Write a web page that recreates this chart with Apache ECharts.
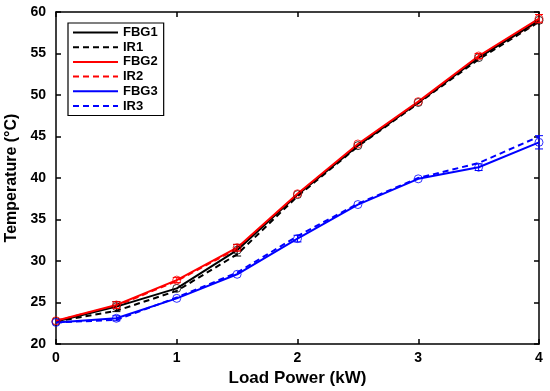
<!DOCTYPE html>
<html><head><meta charset="utf-8">
<script src="https://cdn.jsdelivr.net/npm/echarts@6/dist/echarts.min.js"></script>
<style>html,body{margin:0;padding:0;background:#fff}#c{width:550px;height:391px}</style>
</head><body><div id="c"></div>
<script>
const xVals = [0, 0.5, 1, 1.5, 2, 2.5, 3, 3.5, 4];
const fbg1 = [22.7, 24.5, 26.7, 31.3, 38.0, 43.9, 49.1, 54.5, 59.0];
const ir1  = [22.7, 24.0, 26.4, 30.8, 37.8, 43.8, 49.0, 54.3, 58.8];
const fbg2 = [22.8, 24.7, 27.7, 31.6, 38.1, 44.1, 49.2, 54.7, 59.2];
const ir2  = [22.8, 24.6, 27.6, 31.5, 38.0, 44.0, 49.1, 54.6, 58.9];
const fbg3 = [22.6, 23.1, 25.5, 28.4, 32.7, 36.8, 39.9, 41.3, 44.3];
const ir3  = [22.6, 22.9, 25.6, 28.6, 33.0, 36.9, 40.0, 41.8, 45.0];
const err1 = [0, 0.6, 0, 0.7, 0, 0, 0, 0, 0];
const err2 = [0, 0.4, 0.3, 0.4, 0, 0, 0, 0.3, 0.5];
const err3 = [0, 0.3, 0, 0, 0.4, 0, 0, 0.4, 0.8];
const xTicks = [0, 1, 2, 3, 4];
const yMin = 20, yMax = 60, yStep = 5;

const BLK = '#000000', RED = '#ff0000', BLU = '#0000ff';
const font = 'Liberation Sans, Arial, sans-serif';

function pts(arr){ return xVals.map((x,i)=>[x,arr[i]]); }
function lineSeries(name, arr, color, dashed){
  return {name, type:'line', data:pts(arr), symbol:'none', showSymbol:false, z: dashed?3:4,
    lineStyle:{color, width:2, type: dashed?[6,4]:'solid'}, itemStyle:{color}};
}
function markerSeries(arr, color){
  return {type:'scatter', data:pts(arr), symbol:'circle', symbolSize:8, z:5,
    itemStyle:{color:'rgba(0,0,0,0)', borderColor:color, borderWidth:1}, silent:true};
}
function errSeries(arr, err, color){
  const d = xVals.map((x,i)=>[x, arr[i]-err[i], arr[i]+err[i]]).filter((p,i)=>err[i]>0);
  return {type:'custom', z:6, silent:true, data:d,
    renderItem(params, api){
      const lo = api.coord([api.value(0), api.value(1)]);
      const hi = api.coord([api.value(0), api.value(2)]);
      const w = 4;
      const st = {stroke:color, lineWidth:1};
      return {type:'group', children:[
        {type:'line', shape:{x1:lo[0],y1:lo[1],x2:hi[0],y2:hi[1]}, style:st},
        {type:'line', shape:{x1:lo[0]-w,y1:lo[1],x2:lo[0]+w,y2:lo[1]}, style:st},
        {type:'line', shape:{x1:hi[0]-w,y1:hi[1],x2:hi[0]+w,y2:hi[1]}, style:st}
      ]};
    }};
}

const axisCommon = {
  axisLine:{show:true, onZero:false, lineStyle:{color:BLK, width:1.5}},
  axisTick:{show:true, inside:true, length:5, lineStyle:{color:BLK, width:1.5}},
  splitLine:{show:false}
};

const chart = echarts.init(document.getElementById('c'));
chart.setOption({
  animation:false,
  backgroundColor:'#fff',
  textStyle:{fontFamily:font},
  grid:{left:56, right:11, top:12, bottom:47, containLabel:false, outerBoundsMode:'none'},
  legend:{
    data:['FBG1','IR1','FBG2','IR2','FBG3','IR3'],
    orient:'vertical', left:68, top:23,
    itemWidth:45, itemHeight:12, itemGap:1.7,
    padding:[3,6,3,4],
    itemStyle:{color:'rgba(0,0,0,0)', borderColor:'rgba(0,0,0,0)', borderWidth:0, opacity:0},
    borderColor:BLK, borderWidth:1.2, backgroundColor:'#fff',
    textStyle:{fontFamily:font, fontWeight:'bold', fontSize:13, color:BLK}
  },
  xAxis:[
    Object.assign({type:'value', min:0, max:4, interval:1, position:'bottom',
      name:'Load Power (kW)', nameLocation:'middle', nameGap:24,
      nameTextStyle:{fontFamily:font, fontWeight:'bold', fontSize:17, color:BLK},
      axisLabel:{fontFamily:font, fontWeight:'bold', fontSize:14, color:BLK, margin:7,
        formatter:v=>xTicks.includes(v)?String(v):''}}, axisCommon),
    Object.assign({type:'value', min:0, max:4, interval:1, position:'top',
      axisLabel:{show:false}}, axisCommon)
  ],
  yAxis:[
    Object.assign({type:'value', min:yMin, max:yMax, interval:yStep, position:'left',
      name:'Temperature (°C)', nameLocation:'middle', nameGap:33,
      nameTextStyle:{fontFamily:font, fontWeight:'bold', fontSize:16, color:BLK},
      axisLabel:{fontFamily:font, fontWeight:'bold', fontSize:14, color:BLK, margin:10}}, axisCommon),
    Object.assign({type:'value', min:yMin, max:yMax, interval:yStep, position:'right',
      axisLabel:{show:false}}, axisCommon)
  ],
  series:[
    lineSeries('FBG1', fbg1, BLK, false),
    lineSeries('IR1', ir1, BLK, true),
    lineSeries('FBG2', fbg2, RED, false),
    lineSeries('IR2', ir2, RED, true),
    lineSeries('FBG3', fbg3, BLU, false),
    lineSeries('IR3', ir3, BLU, true),
    markerSeries(fbg1, BLK), markerSeries(fbg2, RED), markerSeries(fbg3, BLU),
    errSeries(fbg1, err1, BLK), errSeries(fbg2, err2, RED), errSeries(fbg3, err3, BLU)
  ]
});
</script></body></html>
